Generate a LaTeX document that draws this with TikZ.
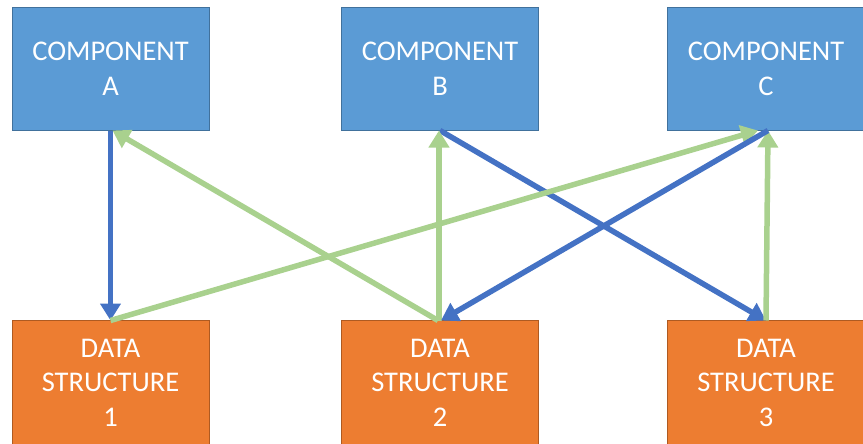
\documentclass[tikz,border=0pt]{standalone}
\usepackage{fontspec}
\setmainfont{Carlito}
\usetikzlibrary{arrows.meta}
\definecolor{compfill}{HTML}{5B9BD5}
\definecolor{compline}{HTML}{41719C}
\definecolor{dsfill}{HTML}{ED7D31}
\definecolor{dsline}{HTML}{AE5A21}
\definecolor{callblue}{HTML}{4472C4}
\definecolor{readgreen}{HTML}{A9D18E}
\begin{document}
\begin{tikzpicture}[x=1pt,y=-1pt,
  box/.style={rectangle, minimum width=197pt, inner sep=0pt, outer sep=0pt,
    text=white, align=center, font=\fontsize{28.5}{34.5}\selectfont, line width=0.8pt},
  comp/.style={box, fill=compfill, draw=compline, minimum height=123pt},
  dstruct/.style={box, fill=dsfill, draw=dsline, minimum height=124pt},
  conn/.style={line width=5.5pt, -{Triangle[width=20pt,length=17pt]}},
  blueconn/.style={conn, draw=callblue},
  greenconn/.style={conn, draw=readgreen}]
\useasboundingbox (0,0) rectangle (863,444);
% components
\node[comp] (A) at (110.5,69) {COMPONENT\\A};
\node[comp] (B) at (440,69) {COMPONENT\\B};
\node[comp] (C) at (766,69) {COMPONENT\\C};
% data structures
\node[dstruct] (D1) at (110.5,382.5) {DATA\\STRUCTURE\\1};
\node[dstruct] (D2) at (440,382.5) {DATA\\STRUCTURE\\2};
\node[dstruct] (D3) at (766,382.5) {DATA\\STRUCTURE\\3};
% connectors
\draw[blueconn] (A.south) -- (D1.north);
\draw[blueconn] (B.south) -- (D3.north);
\draw[greenconn] ([xshift=-2pt]D2.north) -- ([xshift=2pt]A.south);
\draw[greenconn] ([xshift=-1pt]D2.north) -- ([xshift=-1pt]B.south);
\draw[greenconn] (D3.north) -- ([xshift=2pt]C.south);
\draw[greenconn] (D1.north) -- ([xshift=-8pt]C.south);
\draw[blueconn] ([xshift=2pt]C.south) -- ([xshift=1pt]D2.north);
\end{tikzpicture}
\end{document}
